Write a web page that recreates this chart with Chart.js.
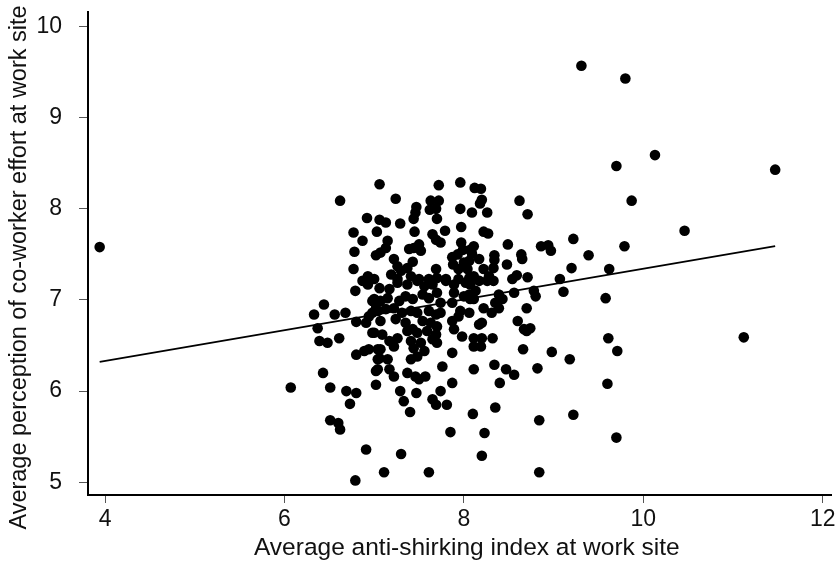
<!DOCTYPE html>
<html>
<head>
<meta charset="utf-8"/>
<style>
  html,body{margin:0;padding:0;background:#fff;}
  #wrap{width:837px;height:561px;}
</style>
</head>
<body>
<div id="wrap"><canvas id="c" width="837" height="561"></canvas></div>
<script src="https://cdn.jsdelivr.net/npm/chart.js@4.4.0/dist/chart.umd.min.js"></script>
<script>
const xTicks = [4, 6, 8, 10, 12];
const yTicks = [5, 6, 7, 8, 9, 10];
const xTitle = 'Average anti-shirking index at work site';
const yTitle = 'Average perception of co-worker effort at work site';

// one entry per work site: anti-shirking index (x) and co-worker effort (y)
const antiShirking = [
  3.94,9.31,9.80,10.13,9.70,11.47,9.87,10.46,9.22,9.79,9.39,9.20,9.62,9.07,9.11,9.58,9.61,11.12,9.71,9.18,9.60,9.22,9.70,
  8.10,8.35,8.84,8.23,8.20,8.84,
  7.29,7.47,7.65,7.69,7.74,7.81,7.33,7.40,7.85,7.30,7.11,7.61,
  6.73,6.51,6.60,6.62,6.91,6.79,
  6.87,6.93,6.79,6.44,6.33,6.56,6.68,6.98,7.02,6.98,6.94,6.80,6.91,6.37,6.98,6.39,6.48,6.61,6.80,6.89,6.94,7.04,7.04,6.43,7.02,6.07,6.51,6.69,6.80,7.02,
  6.62,6.92,6.77,6.87,6.78,6.77,6.93,
  7.06,7.72,7.96,7.24,7.63,7.72,7.47,7.46,7.62,7.69,7.96,7.44,7.70,7.06,7.13,7.29,7.97,7.03,7.45,7.65,
  7.69,7.74,7.79,7.15,7.13,7.07,7.02,7.39,7.44,7.52,7.50,7.97,7.99,7.87,7.93,8.09,7.22,7.26,7.30,7.43,
  7.37,7.69,7.88,7.94,8.00,8.04,7.19,7.26,7.41,7.50,7.61,7.70,7.80,7.94,8.06,7.00,
  8.12,8.19,8.20,8.18,8.09,8.26,8.62,8.71,8.22,8.27,8.49,8.86,8.94,8.97,8.11,8.07,8.34,8.34,8.64,8.65,
  8.17,8.06,8.48,8.33,8.22,8.11,8.28,8.33,8.17,8.59,8.54,8.71,
  7.06,7.17,7.26,7.37,7.48,7.56,7.65,7.80,7.89,8.02,
  7.00,7.07,7.15,7.28,7.35,7.43,7.54,7.61,7.70,7.74,7.89,8.00,8.07,
  7.04,7.13,7.22,7.31,7.41,7.48,7.61,7.69,7.74,7.87,7.96,8.06,
  7.07,7.24,7.35,7.43,7.54,7.63,7.70,7.87,7.94,
  7.00,7.09,7.37,7.48,7.59,7.69,7.89,7.98,
  7.17,7.26,7.41,7.52,7.65,7.70,
  7.07,7.22,7.44,7.56,7.87,
  7.06,7.15,7.41,7.48,7.76,
  7.04,7.17,7.22,7.37,7.46,7.57,7.50,
  7.87,
  8.07,8.26,8.13,8.06,8.11,8.39,8.43,8.35,8.56,8.78,8.80,8.22,8.31,8.39,8.70,8.20,8.17,8.60,8.67,8.74,
  8.70,8.11,8.20,8.11,8.19,8.32,8.66,8.98,8.11,8.34,8.47,8.56,8.82,8.40
];
const coworkerEffort = [
  7.58,9.57,9.43,8.59,8.47,8.43,8.09,7.76,7.67,7.59,7.49,7.35,7.34,7.23,7.09,7.02,6.58,6.59,6.44,6.35,6.08,5.74,5.49,
  5.75,5.82,5.68,5.54,5.29,5.11,
  6.00,5.98,5.91,5.85,6.00,5.85,5.89,5.77,5.55,5.31,5.11,5.11,
  5.86,5.68,5.65,5.58,5.36,5.02,
  7.21,7.17,7.10,6.95,6.84,6.84,6.86,6.99,6.91,6.86,6.82,6.76,6.75,6.69,6.64,6.55,6.53,6.58,6.40,6.44,6.46,6.46,6.35,6.20,6.22,6.04,6.04,6.00,5.98,6.07,
  8.09,7.90,7.74,7.65,7.53,7.34,7.26,
  8.27,8.26,8.29,8.11,8.09,8.09,8.02,7.96,7.99,8.00,8.00,7.89,7.89,7.88,7.85,7.84,7.80,7.75,7.75,7.72,
  7.66,7.63,7.76,7.65,7.57,7.52,7.49,7.56,7.57,7.54,7.61,7.63,7.55,7.47,7.50,7.51,7.45,7.37,7.32,7.42,
  7.35,7.34,7.39,7.34,7.41,7.34,7.28,7.23,7.26,7.23,7.23,7.24,7.23,7.23,7.24,7.23,
  8.23,8.22,8.10,8.06,7.96,7.96,8.09,7.94,7.75,7.73,7.61,7.59,7.60,7.54,7.59,7.55,7.49,7.44,7.50,7.45,
  7.45,7.43,7.39,7.35,7.34,7.26,7.26,7.21,7.21,7.27,7.23,7.25,
  7.13,7.12,7.19,7.17,7.21,7.15,7.17,7.21,7.17,7.19,
  7.01,6.99,7.02,6.99,7.04,7.01,7.06,7.02,7.08,6.97,7.08,7.04,7.01,
  6.88,6.90,6.91,6.86,6.88,6.86,6.88,6.84,6.86,6.97,6.88,6.86,
  6.77,6.79,6.75,6.68,6.77,6.75,6.71,6.77,6.82,
  6.64,6.62,6.66,6.64,6.66,6.62,6.68,6.60,
  6.55,6.58,6.55,6.53,6.57,6.53,
  6.46,6.49,6.47,6.44,6.42,
  6.36,6.35,6.35,6.38,6.27,
  6.24,6.24,6.16,6.20,6.16,6.16,6.13,
  6.09,
  7.17,7.21,7.10,7.06,7.01,7.06,7.01,6.97,7.08,7.10,7.04,6.91,6.86,6.91,6.91,6.75,6.73,6.77,6.68,6.69,
  6.66,6.58,6.58,6.49,6.49,6.58,6.46,6.43,6.24,6.29,6.24,6.18,6.25,6.09
];

// fitted line, end points
const fitX = [3.94, 11.47];
const fitY = [6.32, 7.59];

const FONT = '"Liberation Sans", Arial, Helvetica, sans-serif';
Chart.defaults.font.family = FONT;
Chart.defaults.color = '#111';

// axis titles drawn by hand: the y title sits a bit below the plot's middle
const axisTitles = {
  id: 'axisTitles',
  afterDraw(chart) {
    const { ctx, chartArea: ca } = chart;
    ctx.save();
    ctx.fillStyle = '#111';
    ctx.textAlign = 'center';
    ctx.textBaseline = 'middle';
    ctx.font = '24.5px ' + FONT;
    ctx.fillText(xTitle, (ca.left + ca.right) / 2 + 7, chart.height - 13);
    ctx.font = '23.5px ' + FONT;
    ctx.translate(20, (ca.top + ca.bottom) / 2 + 14);
    ctx.rotate(-Math.PI / 2);
    ctx.fillText(yTitle, 0, 0);
    ctx.restore();
  }
};

new Chart(document.getElementById('c'), {
  type: 'scatter',
  data: {
    datasets: [
      { type:'line', data: fitX.map((x,i) => ({x, y: fitY[i]})),
        borderColor:'#000', borderWidth:1.8, pointRadius:0, fill:false, tension:0 },
      { data: antiShirking.map((x,i) => ({x, y: coworkerEffort[i]})),
        backgroundColor:'#000', borderWidth:0, pointRadius:5.3 }
    ]
  },
  options: {
    responsive:false, animation:false, events:[],
    layout:{ padding:{ top:12, right:2, left:0, bottom:0 } },
    plugins:{ legend:{display:false}, tooltip:{enabled:false} },
    scales:{
      x:{
        type:'linear', min:3.81, max:12.1,
        afterBuildTicks: a => { a.ticks = xTicks.map(v => ({value:v})); },
        afterFit: a => { a.height = 66; a.paddingLeft = 0; a.paddingRight = 0; },
        grid:{ drawOnChartArea:false, drawTicks:true, tickLength:8, color:'#555', lineWidth:1 },
        border:{ display:true, color:'#000', width:2 },
        ticks:{ font:{size:23}, padding:3, color:'#111', maxRotation:0 }
      },
      y:{
        type:'linear', min:4.86, max:10.16,
        afterBuildTicks: a => { a.ticks = yTicks.map(v => ({value:v})); },
        afterFit: a => { a.width = 88; a.paddingTop = 0; a.paddingBottom = 0; },
        grid:{ drawOnChartArea:false, drawTicks:true, tickLength:9, color:'#555', lineWidth:1 },
        border:{ display:true, color:'#000', width:2 },
        ticks:{ font:{size:23}, padding:17, color:'#111' }
      }
    }
  },
  plugins: [axisTitles]
});
</script>
</body>
</html>
